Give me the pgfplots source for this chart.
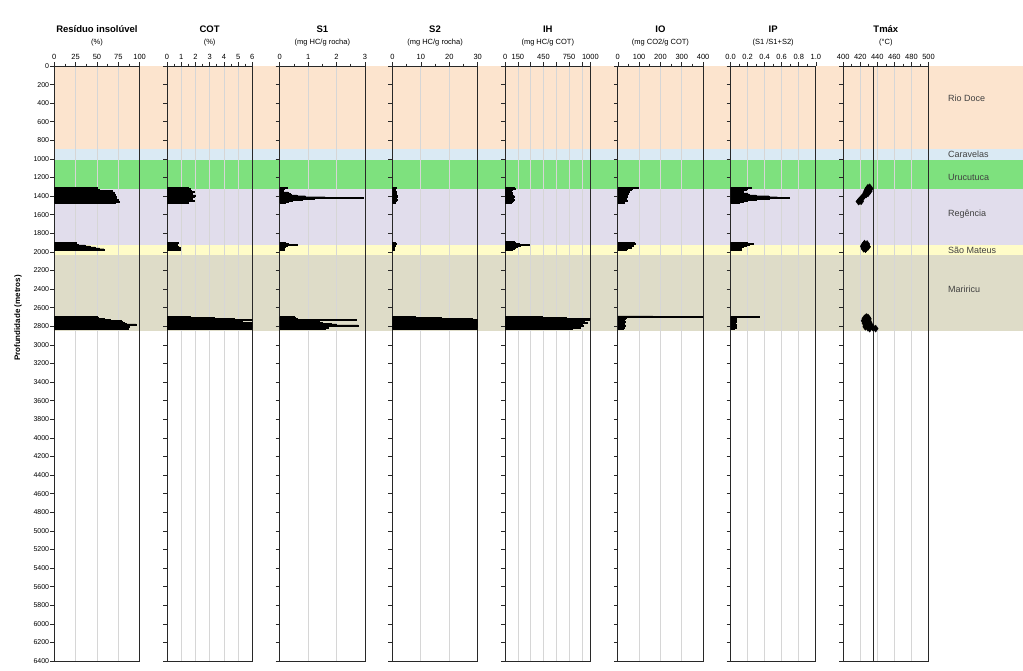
\documentclass[border=0pt]{standalone}
\usepackage{fontspec}
\setmainfont{Liberation Sans}
\usepackage{pgfplots}
\pgfplotsset{compat=1.18}
\definecolor{bRio}{RGB}{252,228,206}
\definecolor{bCar}{RGB}{218,234,244}
\definecolor{bUru}{RGB}{126,225,126}
\definecolor{bReg}{RGB}{225,221,236}
\definecolor{bSao}{RGB}{255,252,200}
\definecolor{bMar}{RGB}{222,220,200}
\definecolor{gridc}{RGB}{214,214,214}
\definecolor{axc}{RGB}{40,40,40}
\pgfplotsset{
  /pgf/number format/assume math mode=true,
  /pgf/number format/1000 sep={},
  panel/.style={
    at={(#1pt,9pt)}, anchor=south west,
    width=85.3pt, height=595pt, scale only axis,
    ymin=0, ymax=6400, y dir=reverse,
    ytick={0,200,...,6400}, yticklabels={,,},
    xtick pos=right, xticklabel pos=right, ytick pos=left,
    tick align=outside, major tick length=4pt, minor tick length=2.5pt,
    axis line style={axc, line width=0.8pt},
    tick style={axc, line width=0.6pt},
    xmajorgrids, major grid style={gridc, line width=0.7pt},
    xticklabel style={font=\fontsize{7.5}{8}\selectfont, inner sep=1pt, yshift=1.5pt},
    yticklabel style={font=\fontsize{7}{8}\selectfont, inner sep=1pt},
    minor x tick num=1,
  },
  bars/.style={xbar, bar width=10, fill=black, draw=black, line width=0.2pt},
}
\newcommand{\ttl}[3]{%
  \node[anchor=base, inner sep=0pt, font=\fontsize{9.5}{11}\selectfont\bfseries] at (#1pt,637pt) {#2};
  \node[anchor=base, inner sep=0pt, font=\fontsize{7.5}{9}\selectfont] at (#1pt,625pt) {#3};}
\begin{document}
\begin{tikzpicture}
\path[use as bounding box] (0pt,0pt) rectangle (1023pt,670pt);
% formation bands
\begin{axis}[at={(54.3pt,9pt)}, anchor=south west, width=968.7pt, height=595pt, scale only axis,
  xmin=0, xmax=1, ymin=0, ymax=6400, y dir=reverse, hide axis, clip=false]
\addplot[fill=bRio, draw=none] coordinates {(0,0) (1,0) (1,895) (0,895)};
\addplot[fill=bCar, draw=none] coordinates {(0,895) (1,895) (1,1015) (0,1015)};
\addplot[fill=bUru, draw=none] coordinates {(0,1015) (1,1015) (1,1322) (0,1322)};
\addplot[fill=bReg, draw=none] coordinates {(0,1322) (1,1322) (1,1922) (0,1922)};
\addplot[fill=bSao, draw=none] coordinates {(0,1922) (1,1922) (1,2028) (0,2028)};
\addplot[fill=bMar, draw=none] coordinates {(0,2028) (1,2028) (1,2850) (0,2850)};
\end{axis}
% 1 Residuo insoluvel
\begin{axis}[panel=54.3, xmin=0, xmax=100, xtick={0,25,50,75,100},
  yticklabel={\pgfmathprintnumber{\tick}}]
\addplot[bars] coordinates {
(50,1310) (49,1320) (52,1330) (68,1340) (62,1350) (70,1360) (66,1370) (71,1380) (69,1390)
(72,1400) (70,1410) (73,1420) (72,1430) (75,1440) (73,1450) (76,1460) (71,1470)
(26,1900) (25,1910) (28,1920) (36,1930) (42,1940) (48,1950) (53,1960) (58,1970) (55,1980)
(50,2700) (51,2710) (58,2720) (66,2730) (78,2740) (80,2750) (82,2760) (84,2770) (96,2780)
(86,2790) (88,2800) (83,2810) (86,2820)};
\end{axis}
% 2 COT
\begin{axis}[panel=167.0, xmin=0, xmax=6, xtick={0,1,...,6}]
\addplot[bars] coordinates {
(1.5,1310) (1.6,1320) (1.2,1330) (1.7,1340) (1.9,1350) (1.5,1360) (1.8,1370) (1.6,1380) (2.0,1390)
(1.7,1400) (1.9,1410) (1.5,1420) (1.8,1430) (1.6,1440) (1.9,1450) (1.4,1460) (1.5,1470)
(0.8,1900) (0.7,1910) (0.6,1920) (0.7,1930) (0.8,1940) (0.9,1950) (0.7,1960) (0.9,1970) (0.95,1980)
(1.6,2700) (3.3,2710) (4.7,2720) (6.5,2730) (4.5,2740) (5.3,2750) (6.5,2760) (7,2770) (7,2780)
(7,2790) (7,2800) (7,2810) (6.5,2820)};
\end{axis}
% 3 S1
\begin{axis}[panel=279.7, xmin=0, xmax=3, xtick={0,1,2,3}]
\addplot[bars] coordinates {
(0.25,1310) (0.15,1320) (0.12,1330) (0.1,1340) (0.12,1350) (0.3,1360) (0.35,1370) (0.4,1380) (0.6,1390)
(0.9,1400) (1.6,1410) (2.95,1420) (1.2,1430) (0.8,1440) (0.45,1450) (0.3,1460) (0.2,1470)
(0.2,1900) (0.3,1910) (0.6,1920) (0.25,1930) (0.2,1940) (0.15,1950) (0.1,1960) (0.15,1970) (0.1,1980)
(0.5,2700) (0.55,2710) (0.6,2720) (2.7,2730) (1.2,2740) (1.4,2750) (1.5,2760) (1.8,2770) (2.0,2780)
(2.75,2790) (1.6,2800) (1.7,2810) (1.6,2820)};
\end{axis}
% 4 S2
\begin{axis}[panel=392.4, xmin=0, xmax=30, xtick={0,10,20,30}]
\addplot[bars] coordinates {
(1.2,1310) (0.8,1320) (1.0,1330) (0.9,1340) (1.3,1350) (1.1,1360) (1.4,1370) (1.2,1380) (1.6,1390)
(1.3,1400) (1.5,1410) (1.4,1420) (1.2,1430) (1.5,1440) (1.3,1450) (1.1,1460) (1.0,1470)
(1.0,1900) (1.2,1910) (0.9,1920) (0.8,1930) (0.7,1940) (0.6,1950) (0.5,1960) (0.6,1970) (0.4,1980)
(8,2700) (17,2710) (28,2720) (35,2730) (35,2740) (35,2750) (35,2760) (35,2770) (35,2780)
(35,2790) (35,2800) (35,2810) (35,2820)};
\end{axis}
% 5 IH
\begin{axis}[panel=505.1, xmin=0, xmax=1000, xtick={0,150,300,450,600,750,900,1000},
  xticklabels={0,150,{},450,{},750,{},1000}, minor x tick num=0]
\addplot[bars] coordinates {
(100,1310) (115,1320) (80,1330) (70,1340) (75,1350) (80,1360) (85,1370) (78,1380) (90,1390)
(110,1400) (100,1410) (95,1420) (88,1430) (105,1440) (90,1450) (80,1460) (70,1470)
(110,1890) (120,1900) (160,1910) (285,1920) (180,1930) (140,1940) (120,1950) (100,1960) (80,1970) (70,1980)
(430,2700) (720,2710) (1000,2720) (990,2730) (880,2740) (930,2750) (960,2760) (870,2770) (900,2780)
(910,2790) (850,2800) (880,2810) (780,2820)};
\end{axis}
% 6 IO
\begin{axis}[panel=617.8, xmin=0, xmax=400, xtick={0,100,...,400}]
\addplot[bars] coordinates {
(94,1310) (65,1320) (60,1330) (50,1340) (55,1350) (45,1360) (50,1370) (40,1380) (42,1390)
(38,1400) (45,1410) (35,1420) (40,1430) (32,1440) (45,1450) (30,1460) (28,1470)
(78,1900) (80,1910) (70,1920) (72,1930) (55,1940) (60,1950) (45,1960) (40,1970) (35,1980)
(165,2692) (420,2700) (38,2710) (35,2720) (30,2730) (28,2740) (32,2750) (25,2760) (30,2770)
(22,2780) (35,2790) (28,2800) (30,2810) (25,2820)};
\end{axis}
% 7 IP
\begin{axis}[panel=730.5, xmin=0, xmax=1, xtick={0,0.2,...,1},
  xticklabels={0.0,0.2,0.4,0.6,0.8,1.0}]
\addplot[bars] coordinates {
(0.24,1310) (0.2,1320) (0.18,1330) (0.15,1340) (0.14,1350) (0.15,1360) (0.2,1370) (0.22,1380) (0.3,1390)
(0.45,1400) (0.55,1410) (0.69,1420) (0.45,1430) (0.3,1440) (0.2,1450) (0.15,1460) (0.1,1470)
(0.2,1900) (0.26,1910) (0.22,1920) (0.18,1930) (0.15,1940) (0.12,1950) (0.1,1960) (0.12,1970) (0.08,1980)
(0.34,2700) (0.06,2710) (0.05,2720) (0.07,2730) (0.04,2740) (0.06,2750) (0.05,2760) (0.04,2770) (0.06,2780)
(0.07,2790) (0.05,2800) (0.06,2810) (0.04,2820)};
\end{axis}
% 8 Tmax
\begin{axis}[panel=843.2, xmin=400, xmax=500, xtick={400,420,...,500}]
\addplot[axc, line width=0.9pt] coordinates {(435,0) (435,6400)};
\addplot[only marks, mark=diamond*, mark size=3.5pt, black] coordinates {
(431,1305) (429,1310) (432,1320) (428,1325) (430,1335) (427,1345) (431,1345) (429,1355)
(426,1365) (429,1370) (427,1380) (425,1390) (424,1400) (423,1410) (422,1420) (421,1430)
(420,1440) (419,1450) (418,1458) (421,1455)
(425,1910) (428,1915) (424,1925) (428,1930) (426,1940) (423,1940) (429,1945) (425,1955)
(427,1960) (424,1965) (426,1970)
(427,2700) (429,2705) (425,2715) (430,2720) (427,2730) (424,2740) (430,2745) (428,2755)
(425,2765) (431,2765) (428,2775) (426,2785) (432,2785) (429,2795) (426,2805) (432,2805)
(429,2815) (435,2815) (438,2825) (431,2825)};
\end{axis}
% titles
\ttl{96.95}{Resíduo insolúvel}{(\%)}
\ttl{209.65}{COT}{(\%)}
\ttl{322.35}{S1}{(mg HC/g rocha)}
\ttl{435.05}{S2}{(mg HC/g rocha)}
\ttl{547.75}{IH}{(mg HC/g COT)}
\ttl{660.45}{IO}{(mg CO2/g COT)}
\ttl{773.15}{IP}{(S1 /S1+S2)}
\ttl{885.85}{Tmáx}{(°C)}
\node[rotate=90, font=\fontsize{8}{9}\selectfont\bfseries] at (18pt,352pt) {Profundidade (metros)};
% formation names
\begin{scope}[every node/.style={anchor=west, inner sep=0pt, font=\fontsize{9}{10}\selectfont, text=black!75}]
\node at (948pt,571.7pt) {Rio Doce};
\node at (948pt,515.7pt) {Caravelas};
\node at (948pt,492.7pt) {Urucutuca};
\node at (948pt,456pt) {Regência};
\node at (948pt,419.3pt) {São Mateus};
\node at (948pt,380.7pt) {Mariricu};
\end{scope}
\end{tikzpicture}
\end{document}
